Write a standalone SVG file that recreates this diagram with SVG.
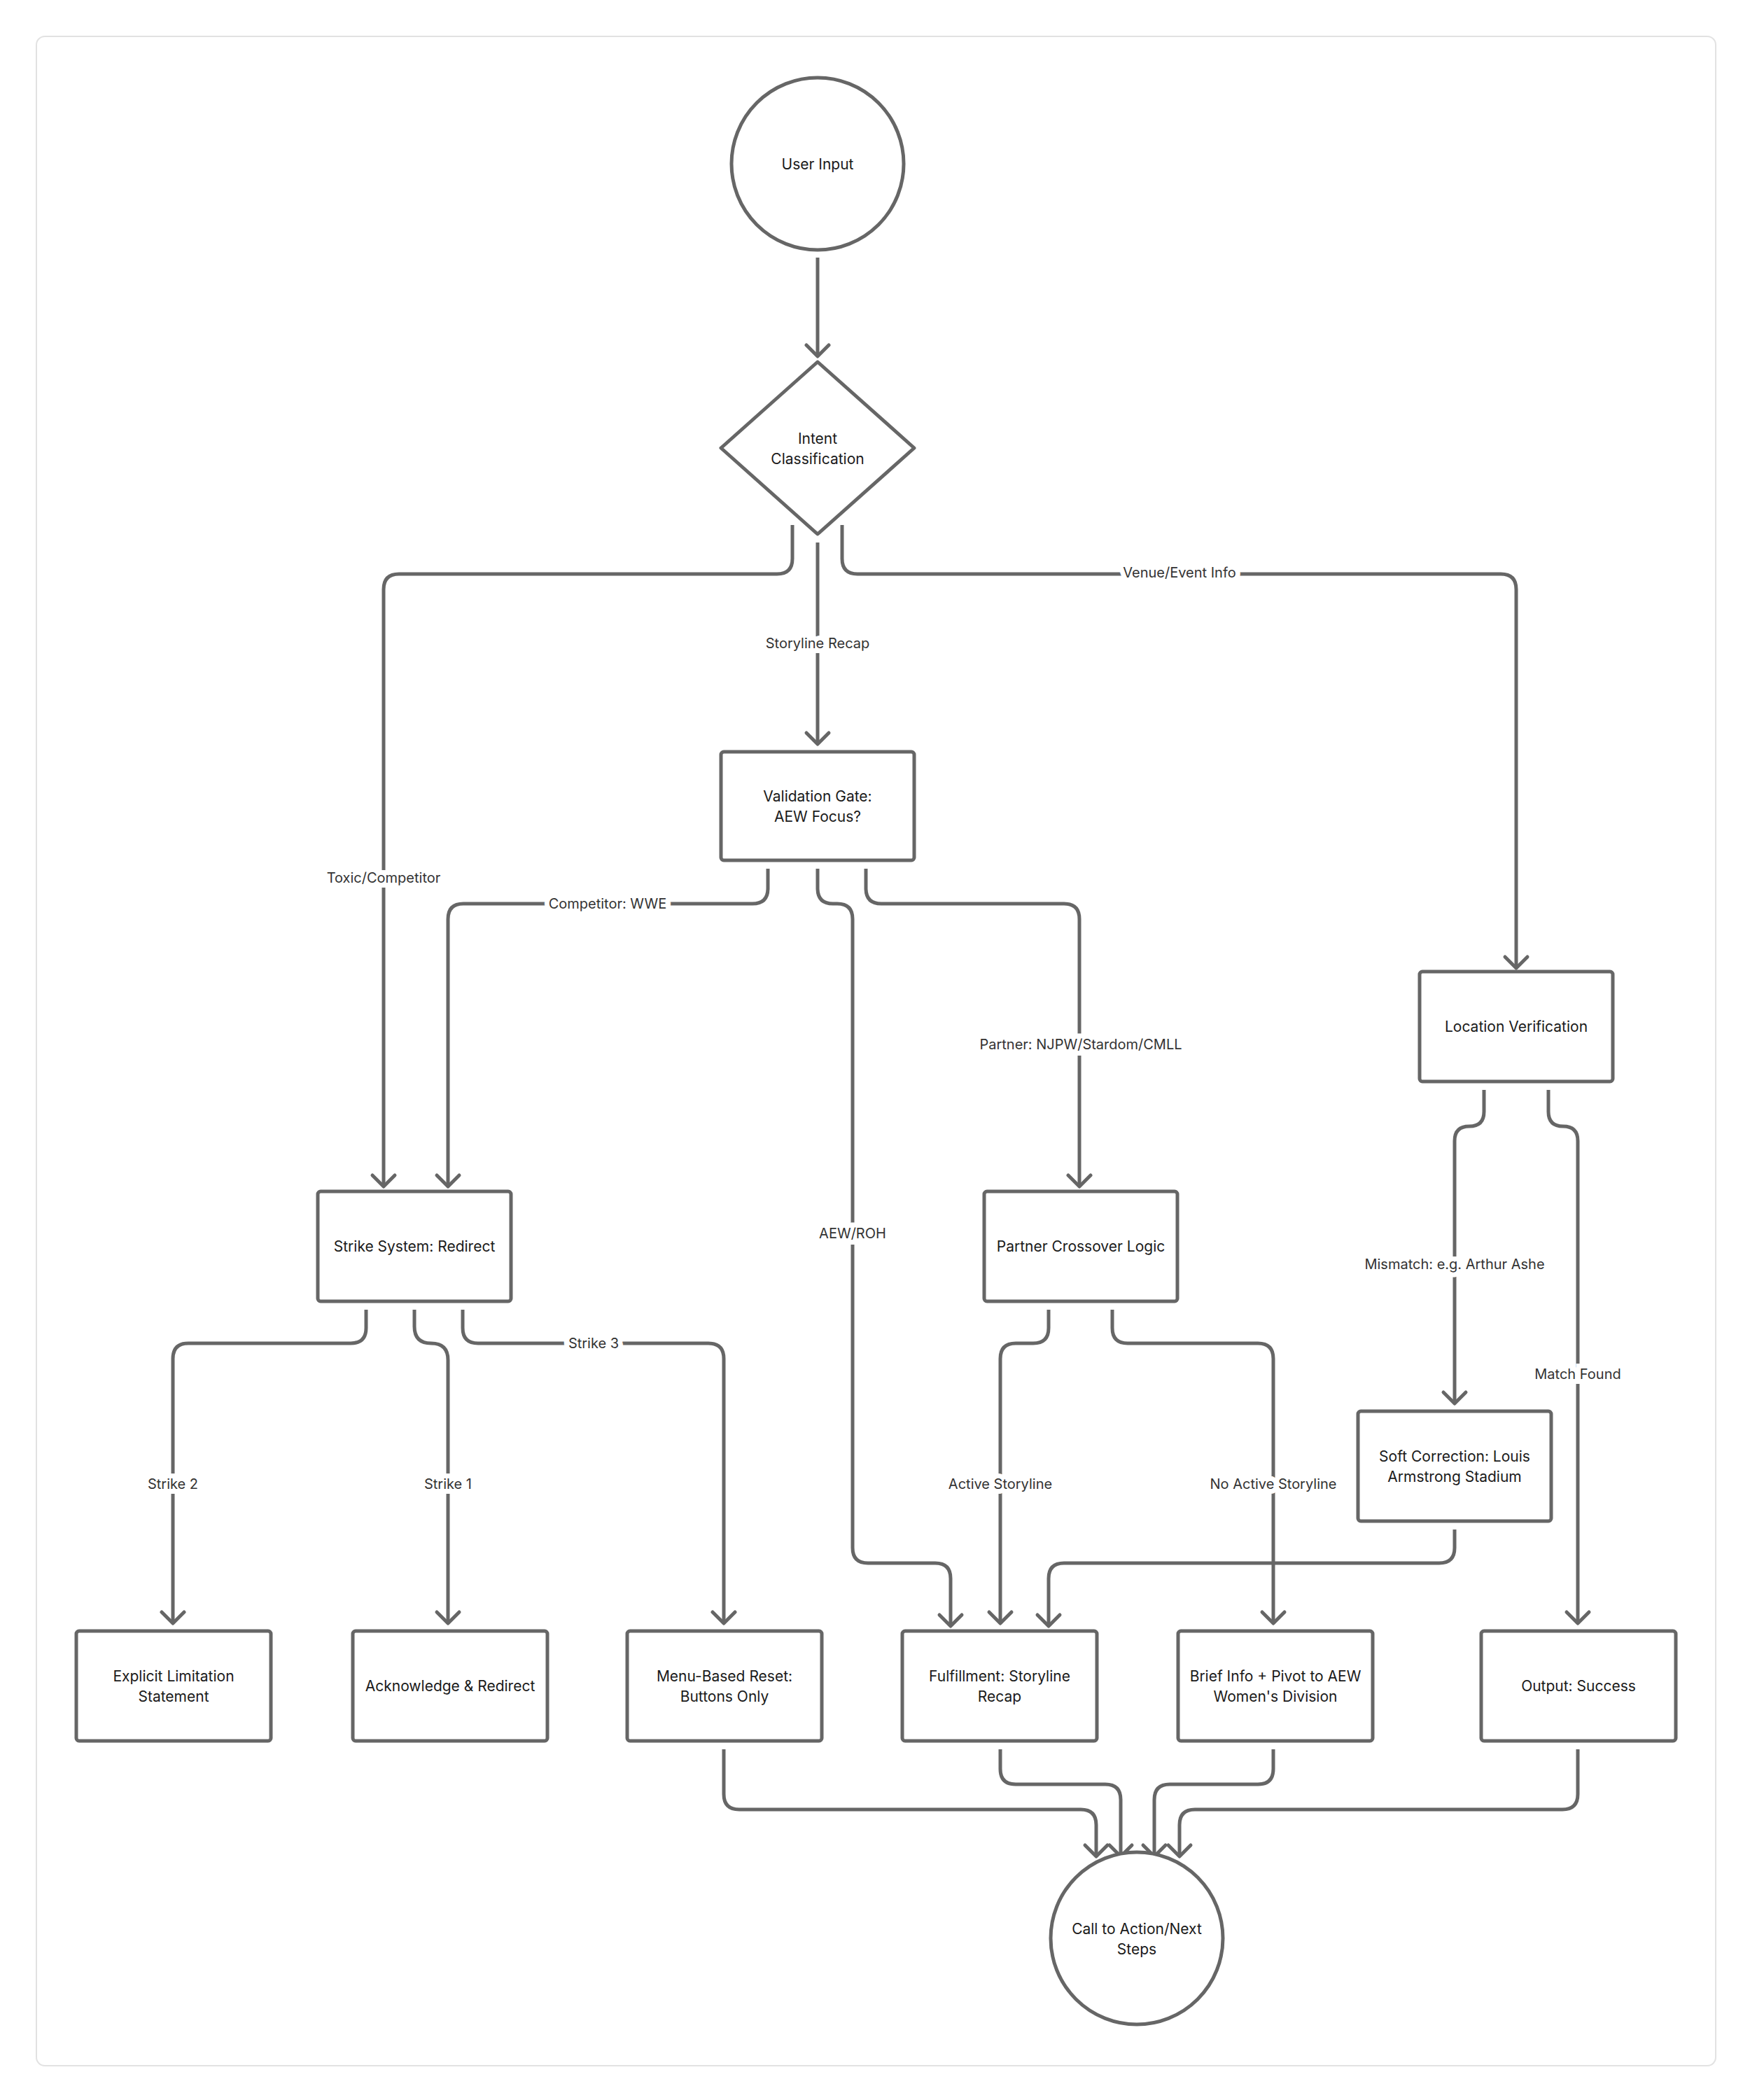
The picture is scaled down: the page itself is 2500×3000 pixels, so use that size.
<svg xmlns="http://www.w3.org/2000/svg" width="2500" height="3000" viewBox="0 0 2500 3000">
<style>
.n{fill:#fff;stroke:#666;stroke-width:5}
.t{font-family:Inter,"Liberation Sans",sans-serif;font-size:21px;fill:#1a1a1a;text-anchor:middle;dominant-baseline:central}
.c{fill:none;stroke:#666;stroke-width:5;marker-end:url(#a)}
.l{font-family:Inter,"Liberation Sans",sans-serif;font-size:20px;fill:#333;text-anchor:middle;dominant-baseline:central;stroke:#fff;stroke-width:14;paint-order:stroke}
</style>
<defs>
<marker id="a" markerUnits="userSpaceOnUse" markerWidth="40" markerHeight="40" refX="20" refY="20" orient="auto" viewBox="0 0 40 40">
<path d="M4 4 L20 20 L4 36" fill="none" stroke="#666" stroke-width="5" stroke-linecap="round" stroke-linejoin="round"/>
</marker>
</defs>
<rect x="52" y="52" width="2399" height="2899" rx="12" fill="#fff" stroke="#e2e2e2" stroke-width="2"/>
<g id="connectors">
<path class="c" d="M1168 368 V509"/>
<path class="c" d="M1132 750 V798 Q1132 820 1110 820 H570 Q548 820 548 842 V1695"/>
<path class="c" d="M1168 775 V1063"/>
<path class="c" d="M1203 750 V798 Q1203 820 1225 820 H2144 Q2166 820 2166 842 V1383"/>
<path class="c" d="M1097 1241 V1269 Q1097 1291 1075 1291 H662 Q640 1291 640 1313 V1695"/>
<path class="c" d="M1168 1241 V1269 Q1168 1291 1190 1291 H1196 Q1218 1291 1218 1313 V2211 Q1218 2233 1240 2233 H1336 Q1358 2233 1358 2255 V2323"/>
<path class="c" d="M1237 1241 V1269 Q1237 1291 1259 1291 H1520 Q1542 1291 1542 1313 V1695"/>
<path class="c" d="M2120 1557 V1588 Q2120 1609 2099 1609 Q2078 1609 2078 1630 V2005"/>
<path class="c" d="M2212 1557 V1588 Q2212 1609 2233 1609 Q2254 1609 2254 1630 V2319"/>
<path class="c" d="M523 1871 V1897 Q523 1919 501 1919 H269 Q247 1919 247 1941 V2319"/>
<path class="c" d="M592 1871 V1895 Q592 1919 616 1919 Q640 1919 640 1943 V2319"/>
<path class="c" d="M661 1871 V1897 Q661 1919 683 1919 H1012 Q1034 1919 1034 1941 V2319"/>
<path class="c" d="M1498 1871 V1897 Q1498 1919 1476 1919 H1451 Q1429 1919 1429 1941 V2319"/>
<path class="c" d="M1589 1871 V1897 Q1589 1919 1611 1919 H1797 Q1819 1919 1819 1941 V2319"/>
<path class="c" d="M2078 2185 V2211 Q2078 2233 2056 2233 H1520 Q1498 2233 1498 2255 V2323"/>
<path class="c" d="M1034 2499 V2563 Q1034 2585 1056 2585 H1544 Q1566 2585 1566 2607 V2652"/>
<path class="c" d="M1429 2499 V2527 Q1429 2549 1451 2549 H1579 Q1601 2549 1601 2571 V2652"/>
<path class="c" d="M1819 2499 V2527 Q1819 2549 1797 2549 H1671 Q1649 2549 1649 2571 V2652"/>
<path class="c" d="M2254 2499 V2563 Q2254 2585 2232 2585 H1707 Q1685 2585 1685 2607 V2652"/>
<text class="l" x="548" y="1254">Toxic/Competitor</text>
<text class="l" x="1168" y="919">Storyline Recap</text>
<text class="l" x="1685" y="818">Venue/Event Info</text>
<text class="l" x="868" y="1291">Competitor: WWE</text>
<text class="l" x="1218" y="1762">AEW/ROH</text>
<text class="l" x="1544" y="1492">Partner: NJPW/Stardom/CMLL</text>
<text class="l" x="2078" y="1806">Mismatch: e.g. Arthur Ashe</text>
<text class="l" x="2254" y="1963">Match Found</text>
<text class="l" x="247" y="2120">Strike 2</text>
<text class="l" x="640" y="2120">Strike 1</text>
<text class="l" x="848" y="1919">Strike 3</text>
<text class="l" x="1429" y="2120">Active Storyline</text>
<text class="l" x="1819" y="2120">No Active Storyline</text>
</g>
<g id="user-input"><circle class="n" cx="1168" cy="234" r="123"/><text class="t" x="1168" y="234">User Input</text></g>
<g id="intent"><path class="n" stroke-linejoin="round" d="M1168 517 L1306 640 L1168 763 L1030 640 Z"/><text class="t" x="1168" y="626">Intent</text><text class="t" x="1168" y="655">Classification</text></g>
<g id="validation"><rect class="n" x="1030" y="1074" width="276" height="155" rx="4"/><text class="t" x="1168" y="1137">Validation Gate:</text><text class="t" x="1168" y="1166">AEW Focus?</text></g>
<g id="location"><rect class="n" x="2028" y="1388" width="276" height="157" rx="4"/><text class="t" x="2166" y="1466">Location Verification</text></g>
<g id="strike"><rect class="n" x="454" y="1702" width="276" height="157" rx="4"/><text class="t" x="592" y="1780">Strike System: Redirect</text></g>
<g id="partner"><rect class="n" x="1406" y="1702" width="276" height="157" rx="4"/><text class="t" x="1544" y="1780">Partner Crossover Logic</text></g>
<g id="soft"><rect class="n" x="1940" y="2016" width="276" height="157" rx="4"/><text class="t" x="2078" y="2080">Soft Correction: Louis</text><text class="t" x="2078" y="2109">Armstrong Stadium</text></g>
<g id="explicit"><rect class="n" x="109" y="2330" width="278" height="157" rx="4"/><text class="t" x="248" y="2394">Explicit Limitation</text><text class="t" x="248" y="2423">Statement</text></g>
<g id="ack"><rect class="n" x="504" y="2330" width="278" height="157" rx="4"/><text class="t" x="643" y="2408">Acknowledge &amp; Redirect</text></g>
<g id="menu"><rect class="n" x="896" y="2330" width="278" height="157" rx="4"/><text class="t" x="1035" y="2394">Menu-Based Reset:</text><text class="t" x="1035" y="2423">Buttons Only</text></g>
<g id="fulfillment"><rect class="n" x="1289" y="2330" width="278" height="157" rx="4"/><text class="t" x="1428" y="2394">Fulfillment: Storyline</text><text class="t" x="1428" y="2423">Recap</text></g>
<g id="brief"><rect class="n" x="1683" y="2330" width="278" height="157" rx="4"/><text class="t" x="1822" y="2394">Brief Info + Pivot to AEW</text><text class="t" x="1822" y="2423">Women's Division</text></g>
<g id="output"><rect class="n" x="2116" y="2330" width="278" height="157" rx="4"/><text class="t" x="2255" y="2408">Output: Success</text></g>
<g id="cta"><circle class="n" cx="1624" cy="2769" r="123"/><text class="t" x="1624" y="2755">Call to Action/Next</text><text class="t" x="1624" y="2784">Steps</text></g>
</svg>
